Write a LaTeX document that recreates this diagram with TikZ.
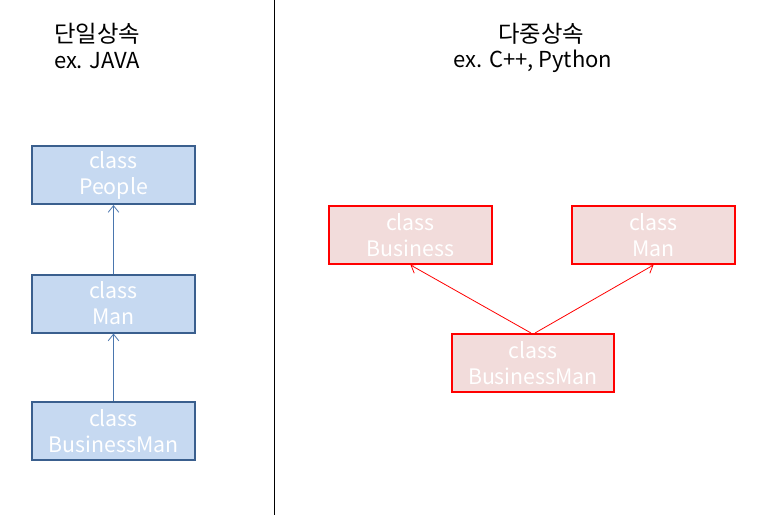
\documentclass[tikz,border=0pt]{standalone}
\usepackage{fontspec}
\setmainfont{Noto Sans CJK KR}
\usetikzlibrary{arrows.meta}
\definecolor{bfill}{HTML}{C6D9F1}
\definecolor{bdraw}{HTML}{3A5F8E}
\definecolor{barrow}{HTML}{4A76AE}
\definecolor{rfill}{HTML}{F2DCDB}
\definecolor{rdraw}{HTML}{FF0000}
\tikzset{
  px/.style={x=0.75pt,y=-0.75pt},
  bluebox/.style={draw=bdraw,line width=1.5pt,fill=bfill,minimum width=122pt,minimum height=43.5pt,inner sep=0pt,
    text=white,align=center,font=\fontsize{16}{19.5}\selectfont},
  redbox/.style={draw=rdraw,line width=1.5pt,fill=rfill,minimum width=122pt,minimum height=43.5pt,inner sep=0pt,
    text=white,align=center,font=\fontsize{16}{19.5}\selectfont},
  blueinh/.style={draw=barrow,line width=0.6pt,-{Straight Barb[length=5pt,width=8pt]}},
  redinh/.style={draw=rdraw,line width=0.6pt,-{Straight Barb[length=5pt,width=8pt]}},
  heading/.style={align=center,font=\fontsize{16.5}{19}\selectfont,inner sep=0pt},
  kheading/.style={align=center,font=\fontsize{17.5}{19}\selectfont,inner sep=0pt}
}
\begin{document}
\begin{tikzpicture}[px]
\useasboundingbox[fill=white] (0,0) rectangle (772,515);
\coordinate (divtop) at (274,0);
\coordinate (divbot) at (274,515);
\draw[line width=0.75pt] (divtop) -- (divbot);

\node[kheading] (t1) at (97,34) {단일상속};
\node[heading] (s1) at (97,61) {ex. JAVA};
\node[kheading] (t2) at (541,34) {다중상속};
\node[heading] (s2) at (533,61) {ex. C++, Python};

\node[bluebox] (people) at (113.5,175) {class\\People};
\node[bluebox] (man1) at (113.5,303.5) {class\\Man};
\node[bluebox] (bm1) at (113.5,431) {class\\BusinessMan};
\draw[blueinh] (man1.north) -- (people.south);
\draw[blueinh] (bm1.north) -- (man1.south);

\node[redbox] (bus) at (410.5,235) {class\\Business};
\node[redbox] (man2) at (653.5,235) {class\\Man};
\node[redbox] (bm2) at (533,363) {class\\BusinessMan};
\draw[redinh] ([xshift=-1.5pt]bm2.north) -- (bus.south);
\draw[redinh] ([xshift=1.5pt]bm2.north) -- (man2.south);
\end{tikzpicture}
\end{document}
